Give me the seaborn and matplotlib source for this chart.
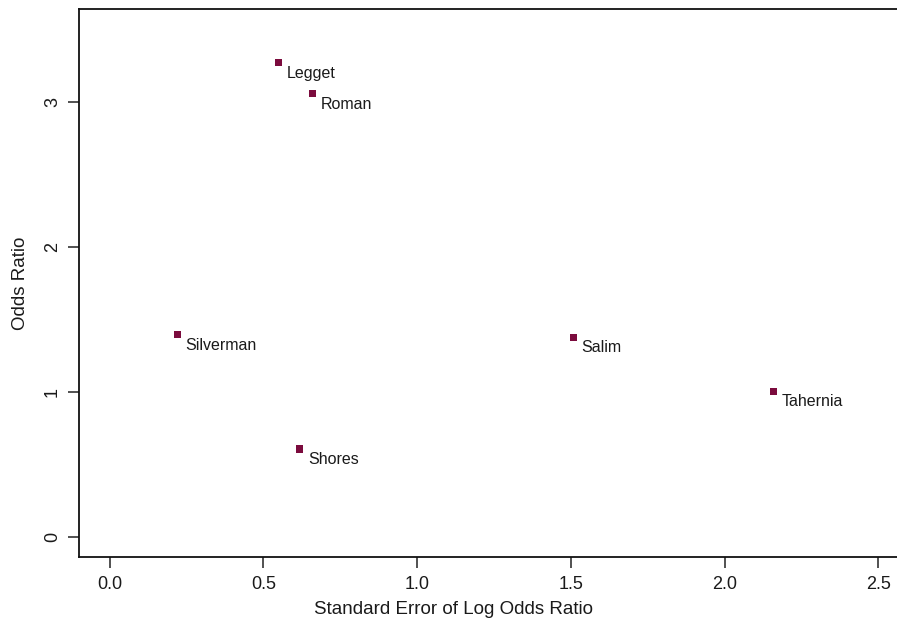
# Odds ratio vs standard error of log odds ratio (R base-graphics look)
import numpy as np
import pandas as pd
import matplotlib
matplotlib.use("Agg")
import matplotlib.pyplot as plt
import seaborn as sns

# data
studies = ["Legget", "Roman", "Silverman", "Shores", "Salim", "Tahernia"]
std_err = [0.548, 0.659, 0.219, 0.618, 1.508, 2.159]
odds_ratio = [3.27, 3.055, 1.393, 0.605, 1.374, 1.002]

x_ticks = [0.0, 0.5, 1.0, 1.5, 2.0, 2.5]
y_ticks = [0, 1, 2, 3]

df = pd.DataFrame({"study": studies, "se": std_err, "or": odds_ratio})

sns.set_style("ticks")
plt.rcParams["font.family"] = ["Liberation Sans", "DejaVu Sans"]

W, H = 897, 629
fig = plt.figure(figsize=(W / 100, H / 100), dpi=100)
# plot region runs past the right edge (reference is cropped there)
ax = fig.add_axes([79 / W, (H - 557) / H, (909 - 79) / W, (557 - 9) / H])

sns.scatterplot(data=df, x="se", y="or", marker="s", s=26,
                color="#7b0b3d", edgecolor="none", linewidth=0, ax=ax)

for _, row in df.iterrows():
    ax.annotate(row["study"], (row["se"], row["or"]),
                xytext=(6, -7.5), textcoords="offset points",
                ha="left", va="center", fontsize=11.5, color="#1a1a1a")

ax.set_xlim(-0.1, 2.6)
ax.set_ylim(-0.14, 3.64)
ax.set_xticks(x_ticks)
ax.set_xticklabels([f"{t:.1f}" for t in x_ticks])
ax.set_yticks(y_ticks)
ax.set_yticklabels([str(t) for t in y_ticks], rotation=90, va="center")

ax.tick_params(axis="both", direction="out", length=8, width=1.1,
               color="#222222", labelsize=13, labelcolor="#1a1a1a")
ax.tick_params(axis="x", pad=5.5)
ax.tick_params(axis="y", pad=5)

for side in ["left", "bottom", "top"]:
    ax.spines[side].set_visible(True)
    ax.spines[side].set_linewidth(1.3)
    ax.spines[side].set_color("#111111")
ax.spines["right"].set_visible(False)

ax.set_xlabel("Standard Error of Log Odds Ratio", fontsize=13.5, color="#1a1a1a")
ax.set_ylabel("Odds Ratio", fontsize=13.5, color="#1a1a1a")
ax.xaxis.set_label_coords((453 - 79) / 830, (557 - 601) / 548)
ax.yaxis.set_label_coords((29 - 79) / 830, 0.5)
ax.grid(False)

fig.savefig("out.png", dpi=100)
